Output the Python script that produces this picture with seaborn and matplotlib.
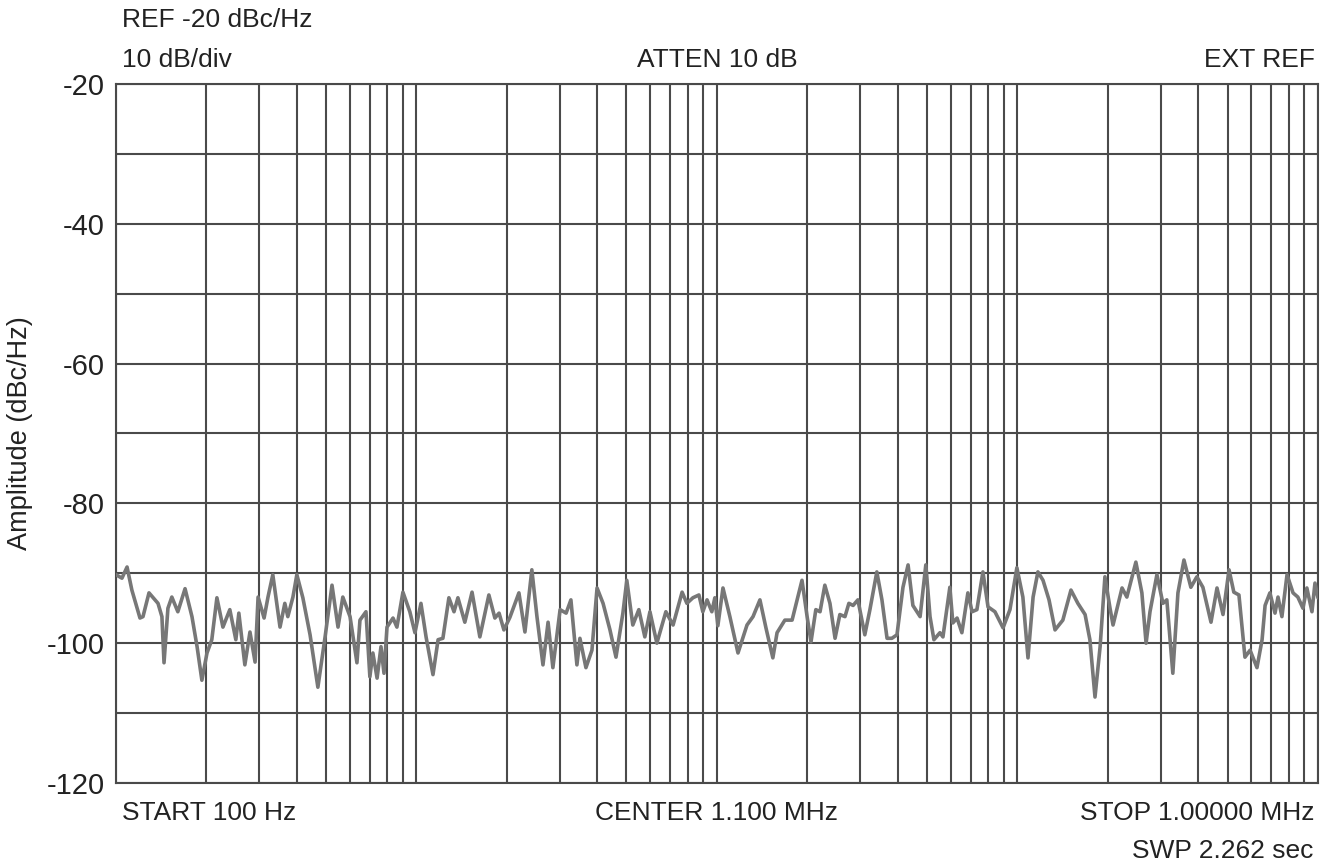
# ═══════════════════════════════════════════════════════════════
#       Phase noise sweep  (100 Hz .. 1 MHz, log frequency axis)
# ═══════════════════════════════════════════════════════════════

import numpy as np
import pandas as pd
import matplotlib
matplotlib.use("Agg")
import matplotlib.pyplot as plt
from matplotlib.ticker import LogLocator, MultipleLocator, NullFormatter
import seaborn as sns

# ---------------------------------------------------------------
# Data (position in decades, amplitude dBc/Hz)
# ---------------------------------------------------------------
log_freq = [
    2.000, 2.020, 2.037, 2.053, 2.080, 2.090, 2.110, 2.140, 2.153, 2.160,
    2.173, 2.186, 2.206, 2.230, 2.253, 2.270, 2.286, 2.303, 2.319, 2.336,
    2.356, 2.379, 2.399, 2.409, 2.429, 2.446, 2.463, 2.473, 2.493, 2.506,
    2.522, 2.546, 2.562, 2.572, 2.589, 2.602, 2.622, 2.646, 2.672, 2.696,
    2.719, 2.739, 2.755, 2.779, 2.802, 2.812, 2.832, 2.845, 2.855, 2.869,
    2.882, 2.892, 2.902, 2.922, 2.935, 2.955, 2.978, 2.995, 3.015, 3.032,
    3.055, 3.072, 3.088, 3.108, 3.125, 3.138, 3.161, 3.185, 3.211, 3.241,
    3.261, 3.275, 3.291, 3.311, 3.341, 3.361, 3.384, 3.401, 3.421, 3.438,
    3.454, 3.478, 3.498, 3.514, 3.534, 3.544, 3.564, 3.584, 3.601, 3.621,
    3.644, 3.664, 3.687, 3.700, 3.720, 3.740, 3.760, 3.777, 3.800, 3.830,
    3.854, 3.884, 3.900, 3.920, 3.940, 3.953, 3.967, 3.983, 3.993, 4.003,
    4.020, 4.043, 4.070, 4.100, 4.120, 4.143, 4.163, 4.186, 4.200, 4.226,
    4.250, 4.283, 4.300, 4.313, 4.329, 4.343, 4.359, 4.376, 4.393, 4.409,
    4.426, 4.439, 4.453, 4.469, 4.492, 4.509, 4.532, 4.549, 4.566, 4.582,
    4.599, 4.619, 4.636, 4.652, 4.676, 4.695, 4.709, 4.722, 4.742, 4.752,
    4.775, 4.785, 4.799, 4.815, 4.835, 4.849, 4.865, 4.885, 4.902, 4.925,
    4.952, 4.975, 4.998, 5.018, 5.035, 5.052, 5.068, 5.085, 5.105, 5.125,
    5.151, 5.178, 5.201, 5.225, 5.241, 5.258, 5.275, 5.291, 5.308, 5.318,
    5.348, 5.364, 5.394, 5.414, 5.428, 5.441, 5.464, 5.484, 5.497, 5.517,
    5.534, 5.554, 5.577, 5.597, 5.617, 5.644, 5.664, 5.684, 5.704, 5.720,
    5.737, 5.757, 5.774, 5.797, 5.814, 5.824, 5.840, 5.857, 5.867, 5.880,
    5.897, 5.917, 5.933, 5.950, 5.963, 5.980, 5.990, 6.000,
]

amplitude = [
    -90.2, -90.7, -89.1, -92.4, -96.4, -96.2, -92.8, -94.3, -96.2, -102.8,
    -95.0, -93.4, -95.5, -92.2, -96.2, -100.5, -105.3, -101.4, -99.5, -93.5,
    -97.7, -95.2, -99.5, -95.7, -103.1, -98.4, -102.7, -93.4, -96.4, -93.4,
    -90.2, -97.7, -94.3, -96.2, -93.4, -90.2, -93.5, -98.8, -106.3, -99.1,
    -91.7, -97.7, -93.4, -96.2, -102.8, -96.7, -95.5, -104.8, -101.4, -105.0,
    -100.5, -104.3, -97.7, -96.4, -97.7, -92.7, -95.5, -98.5, -94.3, -99.1,
    -104.5, -99.5, -99.3, -93.5, -95.5, -93.5, -97.0, -92.7, -99.1, -93.1,
    -96.4, -95.7, -98.1, -96.3, -92.8, -98.4, -89.5, -96.2, -103.1, -97.0,
    -103.5, -95.2, -95.7, -93.8, -103.1, -99.3, -103.5, -101.0, -92.1, -94.3,
    -98.1, -102.0, -95.7, -91.0, -97.4, -95.2, -99.1, -95.5, -100.0, -95.5,
    -97.4, -92.7, -94.3, -93.5, -93.1, -95.5, -93.8, -95.5, -93.5, -97.5,
    -92.1, -96.2, -101.4, -97.4, -96.2, -93.8, -97.8, -102.1, -98.5, -96.7,
    -96.7, -91.0, -96.2, -99.8, -95.2, -95.5, -91.7, -94.3, -99.3, -95.9,
    -96.2, -94.3, -94.6, -93.8, -98.8, -95.2, -89.8, -93.8, -99.3, -99.3,
    -98.8, -92.0, -88.8, -94.6, -96.2, -88.8, -96.2, -99.5, -98.5, -99.1,
    -92.0, -97.1, -96.4, -98.5, -92.8, -95.5, -95.2, -89.8, -94.8, -95.5,
    -97.8, -95.2, -89.2, -93.4, -102.1, -93.4, -89.8, -91.0, -93.8, -98.1,
    -96.7, -92.4, -94.3, -95.9, -99.5, -107.7, -100.5, -90.5, -95.0, -97.4,
    -92.1, -93.4, -88.4, -92.8, -100.0, -95.5, -90.2, -94.3, -93.8, -104.3,
    -92.8, -88.1, -92.0, -90.5, -92.0, -97.0, -92.1, -95.9, -89.5, -92.7,
    -93.1, -102.0, -101.0, -103.5, -99.5, -94.6, -92.8, -95.7, -93.4, -96.2,
    -90.2, -92.8, -93.4, -95.0, -92.1, -95.5, -91.4, -93.5,
]

y_ticks = [-20, -40, -60, -80, -100, -120]

df = pd.DataFrame({"freq_hz": np.power(10.0, log_freq), "amp": amplitude})

# ---------------------------------------------------------------
# Style
# ---------------------------------------------------------------
sns.set_theme(style="white")
plt.rcParams["font.family"] = ["Liberation Sans", "DejaVu Sans"]

grid_col = "#4a4a4a"
trace_col = "#777777"

fig = plt.figure(figsize=(13.25, 8.63), dpi=100)
ax = fig.add_axes([0.0875, 0.0927, 0.9072, 0.8100])

sns.lineplot(data=df, x="freq_hz", y="amp", ax=ax, color=trace_col,
             linewidth=2.6, estimator=None, sort=False, zorder=3)

ax.set_xscale("log")
ax.set_xlim(100, 1e6)
ax.set_ylim(-120, -20)

# log grid: decades + 2..9 subdivisions
ax.xaxis.set_major_locator(LogLocator(base=10))
ax.xaxis.set_minor_locator(LogLocator(base=10, subs=np.arange(2, 10)))
ax.xaxis.set_major_formatter(NullFormatter())
ax.xaxis.set_minor_formatter(NullFormatter())
ax.yaxis.set_major_locator(MultipleLocator(20))
ax.yaxis.set_minor_locator(MultipleLocator(10))
ax.set_yticks(y_ticks)
ax.set_yticklabels([str(t) for t in y_ticks])

ax.grid(True, which="both", axis="both", color=grid_col, linewidth=1.5)
ax.tick_params(axis="both", which="both", length=0)
ax.tick_params(axis="y", labelsize=21, pad=8, colors="#222222")

for s in ax.spines.values():
    s.set_visible(True)
    s.set_color(grid_col)
    s.set_linewidth(1.5)

ax.set_xlabel("")
ax.set_ylabel("Amplitude (dBc/Hz)", fontsize=19.5, color="#222222", labelpad=10)

# ---------------------------------------------------------------
# Instrument annotations
# ---------------------------------------------------------------
txt = dict(fontsize=19, color="#222222", transform=fig.transFigure)
fig.text(122 / 1325, 1 - 20 / 863, "REF -20 dBc/Hz", ha="left", va="center", **txt)
fig.text(122 / 1325, 1 - 60 / 863, "10 dB/div", ha="left", va="center", **txt)
fig.text(717 / 1325, 1 - 60 / 863, "ATTEN 10 dB", ha="center", va="center", **txt)
fig.text(1315 / 1325, 1 - 60 / 863, "EXT REF", ha="right", va="center", **txt)
fig.text(122 / 1325, 1 - 813 / 863, "START 100 Hz", ha="left", va="center", **txt)
fig.text(717 / 1325, 1 - 813 / 863, "CENTER 1.100 MHz", ha="center", va="center", **txt)
fig.text(1315 / 1325, 1 - 813 / 863, "STOP 1.00000 MHz", ha="right", va="center", **txt)
fig.text(1313 / 1325, 1 - 851 / 863, "SWP 2.262 sec", ha="right", va="center", **txt)

fig.savefig("out.png", dpi=100)
